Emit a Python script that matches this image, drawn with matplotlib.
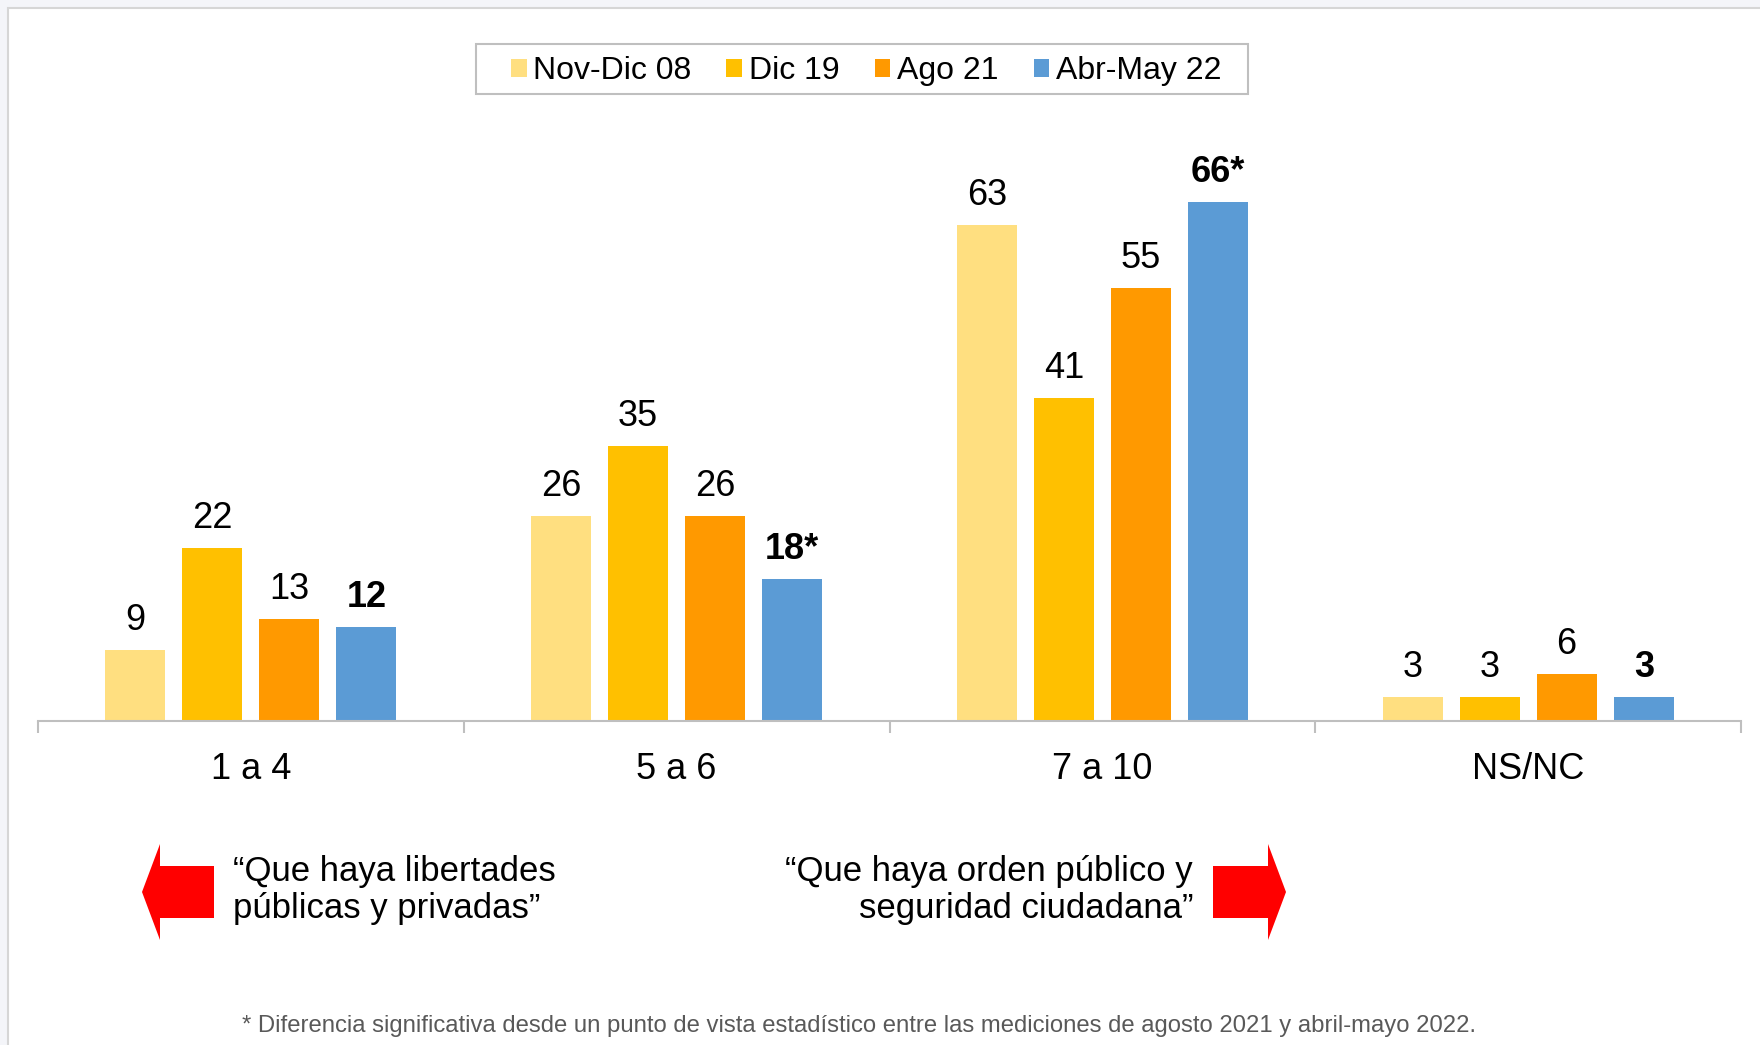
import matplotlib
matplotlib.use('Agg')
import matplotlib.pyplot as plt
from matplotlib.patches import Rectangle, Polygon, Patch
import numpy as np

categories = ['1 a 4', '5 a 6', '7 a 10', 'NS/NC']
series_names = ['Nov-Dic 08', 'Dic 19', 'Ago 21', 'Abr-May 22']
nov_dic_08 = [9, 26, 63, 3]
dic_19 = [22, 35, 41, 3]
ago_21 = [13, 26, 55, 6]
abr_may_22 = [12, 18, 66, 3]
abr_may_22_labels = ['12', '18*', '66*', '3']
colors = ['#FFDF80', '#FFC000', '#FF9900', '#5B9BD5']
footnote = ('* Diferencia significativa desde un punto de vista estadístico entre '
            'las mediciones de agosto 2021 y abril-mayo 2022.')
left_text = ['\u201cQue haya libertades', 'públicas y privadas\u201d']
right_text = ['\u201cQue haya orden público y', 'seguridad ciudadana\u201d']

plt.rcParams['font.family'] = ['Liberation Sans', 'DejaVu Sans']

W, H = 1760, 1045
fig = plt.figure(figsize=(W / 100, H / 100), dpi=100, facecolor='#F4F5F9')


def fx(p):
    return p / W


def fy(p):
    return 1 - p / H


# white panel with thin border
fig.patches.append(Rectangle((fx(8), fy(1200)), fx(1900) - fx(8), fy(8) - fy(1200),
                             transform=fig.transFigure, facecolor='white',
                             edgecolor='#D6D6D6', lw=1.5, zorder=-10))

ax = fig.add_axes([fx(38), fy(721), fx(1741) - fx(38), fy(130.75) - fy(721)])
ax.set_facecolor('none')
ax.set_zorder(2)

series = [nov_dic_08, dic_19, ago_21, abr_may_22]
x = np.arange(len(categories))
step = 0.181
width = 0.141
offsets = (np.arange(len(series)) - 1.5) * step

for i, vals in enumerate(series):
    ax.bar(x + offsets[i], vals, width, color=colors[i], zorder=2, label=series_names[i])
    for j, v in enumerate(vals):
        if i == len(series) - 1:
            txt, fw = abr_may_22_labels[j], 'bold'
        else:
            txt, fw = str(v), 'normal'
        ax.annotate(txt, (x[j] + offsets[i], v), xytext=(0, 14.4), textcoords='offset points',
                    ha='center', va='baseline', fontsize=26, fontweight=fw, color='black')

ax.set_xlim(-0.5, len(categories) - 0.5)
ax.set_ylim(0, 75)
ax.set_yticks([])
for s in ['top', 'left', 'right']:
    ax.spines[s].set_visible(False)
ax.spines['bottom'].set_color('#BFBFBF')
ax.spines['bottom'].set_linewidth(1.5)
ax.set_xticks(x, categories)
ax.tick_params(axis='x', which='major', length=0, pad=22.5, labelsize=26)
ax.set_xticks(np.arange(len(categories) + 1) - 0.5, minor=True)
ax.tick_params(axis='x', which='minor', length=8.6, width=1.5, color='#BFBFBF')

# legend frame and legend
fig.patches.append(Rectangle((fx(476), fy(94)), fx(1248) - fx(476), fy(44) - fy(94),
                             transform=fig.transFigure, facecolor='white',
                             edgecolor='#BFBFBF', lw=1.5, zorder=1))
handles = [Patch(facecolor=c, edgecolor='none') for c in colors]
fig.legend(handles, series_names, loc='center', bbox_to_anchor=(fx(866), fy(71)),
           ncol=4, frameon=False, fontsize=23, handlelength=0.5, handleheight=0.5,
           handletextpad=0.2, columnspacing=1.1, borderpad=0.1)

# arrows
red = '#FF0000'
left_arrow = [(142, 892), (160, 844), (160, 866), (214, 866), (214, 918), (160, 918), (160, 940)]
right_arrow = [(1286, 892), (1268, 844), (1268, 866), (1213, 866), (1213, 918), (1268, 918), (1268, 940)]
for pts in (left_arrow, right_arrow):
    fig.patches.append(Polygon([(fx(a), fy(b)) for a, b in pts], closed=True,
                               transform=fig.transFigure, facecolor=red, edgecolor='none'))

fig.text(fx(233), fy(881), left_text[0], ha='left', va='baseline', fontsize=25)
fig.text(fx(233), fy(918), left_text[1], ha='left', va='baseline', fontsize=25)
fig.text(fx(1193), fy(881), right_text[0], ha='right', va='baseline', fontsize=25)
fig.text(fx(1193), fy(918), right_text[1], ha='right', va='baseline', fontsize=25)

fig.text(fx(859), fy(1026), footnote, ha='center', va='center', fontsize=17.2, color='#595959')

fig.savefig('out.png', dpi=100, facecolor=fig.get_facecolor())
